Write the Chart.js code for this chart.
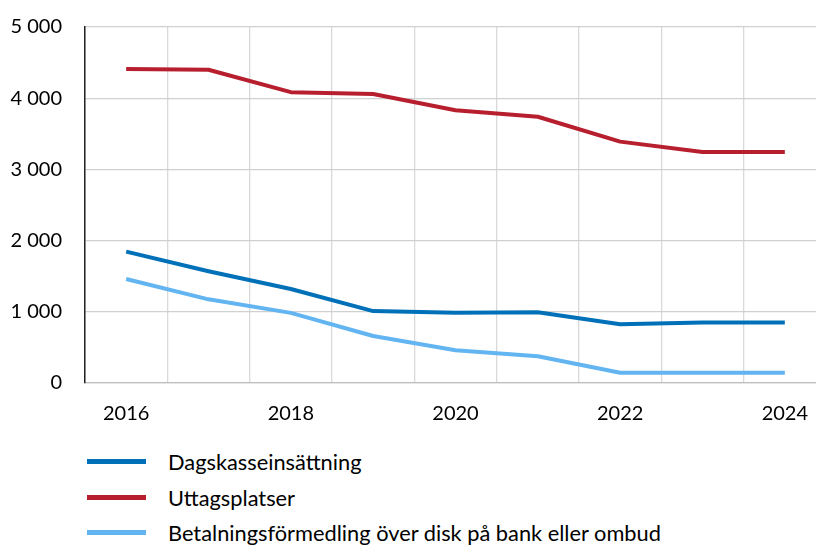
<!DOCTYPE html>
<html>
<head>
<meta charset="utf-8">
<script src="https://cdn.jsdelivr.net/npm/chart.js@4.4.1/dist/chart.umd.min.js"></script>
<style>
    html, body { margin: 0; padding: 0; background: #fff; overflow: hidden; }
    .chart-box { position: absolute; left: 0; top: 0; width: 830px; height: 430px; }
    .legend { position: absolute; left: 87px; top: 444px; font-family: Lato, sans-serif; font-size: 21.8px; color: #000; }
    .legend-item { height: 35.5px; display: flex; align-items: center; }
    .legend-item .swatch { width: 59px; height: 5px; margin-right: 22px; }
</style>
</head>
<body>
<div class="chart-box"><canvas id="lineChart"></canvas></div>
<div class="legend" id="legend"></div>
<script>
// Data
const years = ['2016', '2017', '2018', '2019', '2020', '2021', '2022', '2023', '2024'];
const dagskasse = [1845, 1570, 1320, 1010, 985, 995, 825, 848, 848];
const uttag = [4410, 4400, 4085, 4060, 3830, 3740, 3390, 3245, 3245];
const betalning = [1460, 1175, 985, 660, 460, 375, 145, 145, 145];
const seriesNames = ['Dagskasseinsättning', 'Uttagsplatser', 'Betalningsförmedling över disk på bank eller ombud'];
const yTicks = [0, 1000, 2000, 3000, 4000, 5000];

const colors = ['#0070B8', '#B71F2E', '#62B5F0'];
const fontFamily = 'Lato, sans-serif';

function formatNumber(v) {
    return v.toString().replace(/\B(?=(\d{3})+(?!\d))/g, ' ');
}

const ctx = document.getElementById('lineChart');
const chart = new Chart(ctx, {
    type: 'line',
    data: {
        labels: years,
        datasets: [dagskasse, uttag, betalning].map((values, i) => ({
            label: seriesNames[i],
            data: values,
            borderColor: colors[i],
            backgroundColor: colors[i],
            borderWidth: 4,
            pointRadius: 0,
            tension: 0,
            borderJoinStyle: 'round',
            borderCapStyle: 'butt'
        }))
    },
    options: {
        responsive: true,
        maintainAspectRatio: false,
        animation: false,
        layout: { padding: { top: 27, right: 4, left: 0, bottom: 0 } },
        plugins: {
            legend: { display: false },
            tooltip: { enabled: false }
        },
        scales: {
            x: {
                offset: true,
                grid: { offset: true, color: '#D9D9D9', lineWidth: 1.3, drawTicks: false },
                border: { color: '#BFBFBF', width: 1.3 },
                ticks: {
                    autoSkip: false,
                    maxRotation: 0,
                    padding: 19,
                    color: '#000',
                    font: { family: fontFamily, size: 20 },
                    callback: function(value, index) {
                        return index % 2 === 0 ? years[index] : '';
                    }
                },
                afterFit: function(scale) { scale.height = 47; }
            },
            y: {
                min: 0,
                max: 5000,
                afterBuildTicks: function(scale) {
                    scale.ticks = yTicks.map(v => ({ value: v }));
                },
                grid: { color: '#D0D0D0', lineWidth: 1.3, drawTicks: false },
                border: { color: '#222', width: 1.5 },
                ticks: {
                    padding: 23,
                    color: '#000',
                    font: { family: fontFamily, size: 20 },
                    callback: v => formatNumber(v)
                },
                afterFit: function(scale) {
                    scale.width = 85;
                    // tick padding otherwise pushes the plot top down
                    scale.paddingTop = 0;
                    scale.paddingBottom = 0;
                }
            }
        }
    }
});

// HTML legend, one item per row
const legend = document.getElementById('legend');
chart.data.datasets.forEach(ds => {
    const item = document.createElement('div');
    item.className = 'legend-item';
    const swatch = document.createElement('span');
    swatch.className = 'swatch';
    swatch.style.background = ds.borderColor;
    const text = document.createElement('span');
    text.textContent = ds.label;
    item.appendChild(swatch);
    item.appendChild(text);
    legend.appendChild(item);
});
</script>
</body>
</html>
